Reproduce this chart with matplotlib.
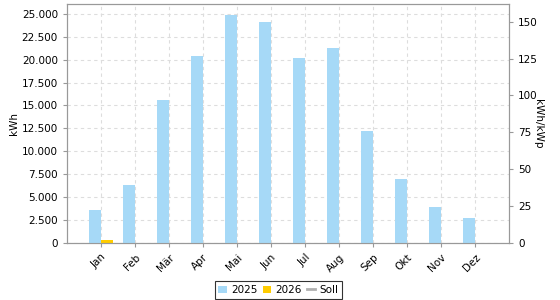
import numpy as np
import matplotlib
matplotlib.use("Agg")
import matplotlib.pyplot as plt
from matplotlib.ticker import FuncFormatter

monate = ["Jan", "Feb", "Mär", "Apr", "Mai", "Jun", "Jul", "Aug", "Sep", "Okt", "Nov", "Dez"]
ertrag_2025 = [3600, 6300, 15560, 20400, 24850, 24050, 20200, 21250, 12250, 7000, 3930, 2750]
ertrag_2026 = [360, 0, 0, 0, 0, 0, 0, 0, 0, 0, 0, 0]

plt.rcParams['font.family'] = ['DejaVu Sans']
fig = plt.figure(figsize=(5.6, 3.0), dpi=100)
ax = fig.add_axes([0.1196, 0.19, 0.7893, 0.7957])
ax2 = ax.twinx()

x = np.arange(1, 13)
w = 0.36
b1 = ax.bar(x - w / 2, ertrag_2025, width=w, color="#a6d9f7", label="2025", zorder=3)
b2 = ax.bar(x + w / 2, ertrag_2026, width=w, color="#ffcc00", label="2026", zorder=3)
l1, = ax.plot([], [], color="#b0b0b0", lw=2, label="Soll")

ax.set_xlim(0, 13)
ax.set_ylim(0, 26030)
ax2.set_ylim(0, 161.8)
ax.set_xticks(x)
ax.set_xticklabels(monate, rotation=45, ha="right", rotation_mode="anchor", fontsize=7.5)
ax.set_yticks(np.arange(0, 25001, 2500))
ax.yaxis.set_major_formatter(FuncFormatter(lambda v, p: f"{v:,.0f}".replace(",", ".")))
ax2.set_yticks(np.arange(0, 151, 25))

ax.grid(True, color="#dddddd", linestyle=(0, (3, 3)), lw=0.8, zorder=0)
ax.set_axisbelow(True)
for a in (ax, ax2):
    for s in a.spines.values():
        s.set_color("#999999")
    a.tick_params(colors="#999999", labelcolor="black", labelsize=7.5, length=3)

ax.set_ylabel("kWh", fontsize=7.5, labelpad=2)
ax2.set_ylabel("kWh/kWp", fontsize=7.5, rotation=270, labelpad=4)

leg = fig.legend([b1, b2, l1], ["2025", "2026", "Soll"], loc="center",
                 bbox_to_anchor=(0.497, 0.033), ncol=3, fontsize=7.5,
                 frameon=True, fancybox=False, edgecolor="black", handlelength=0.8,
                 handletextpad=0.4, columnspacing=0.5, borderpad=0.35)
leg.get_frame().set_linewidth(0.8)

fig.savefig("out.png", dpi=100)
